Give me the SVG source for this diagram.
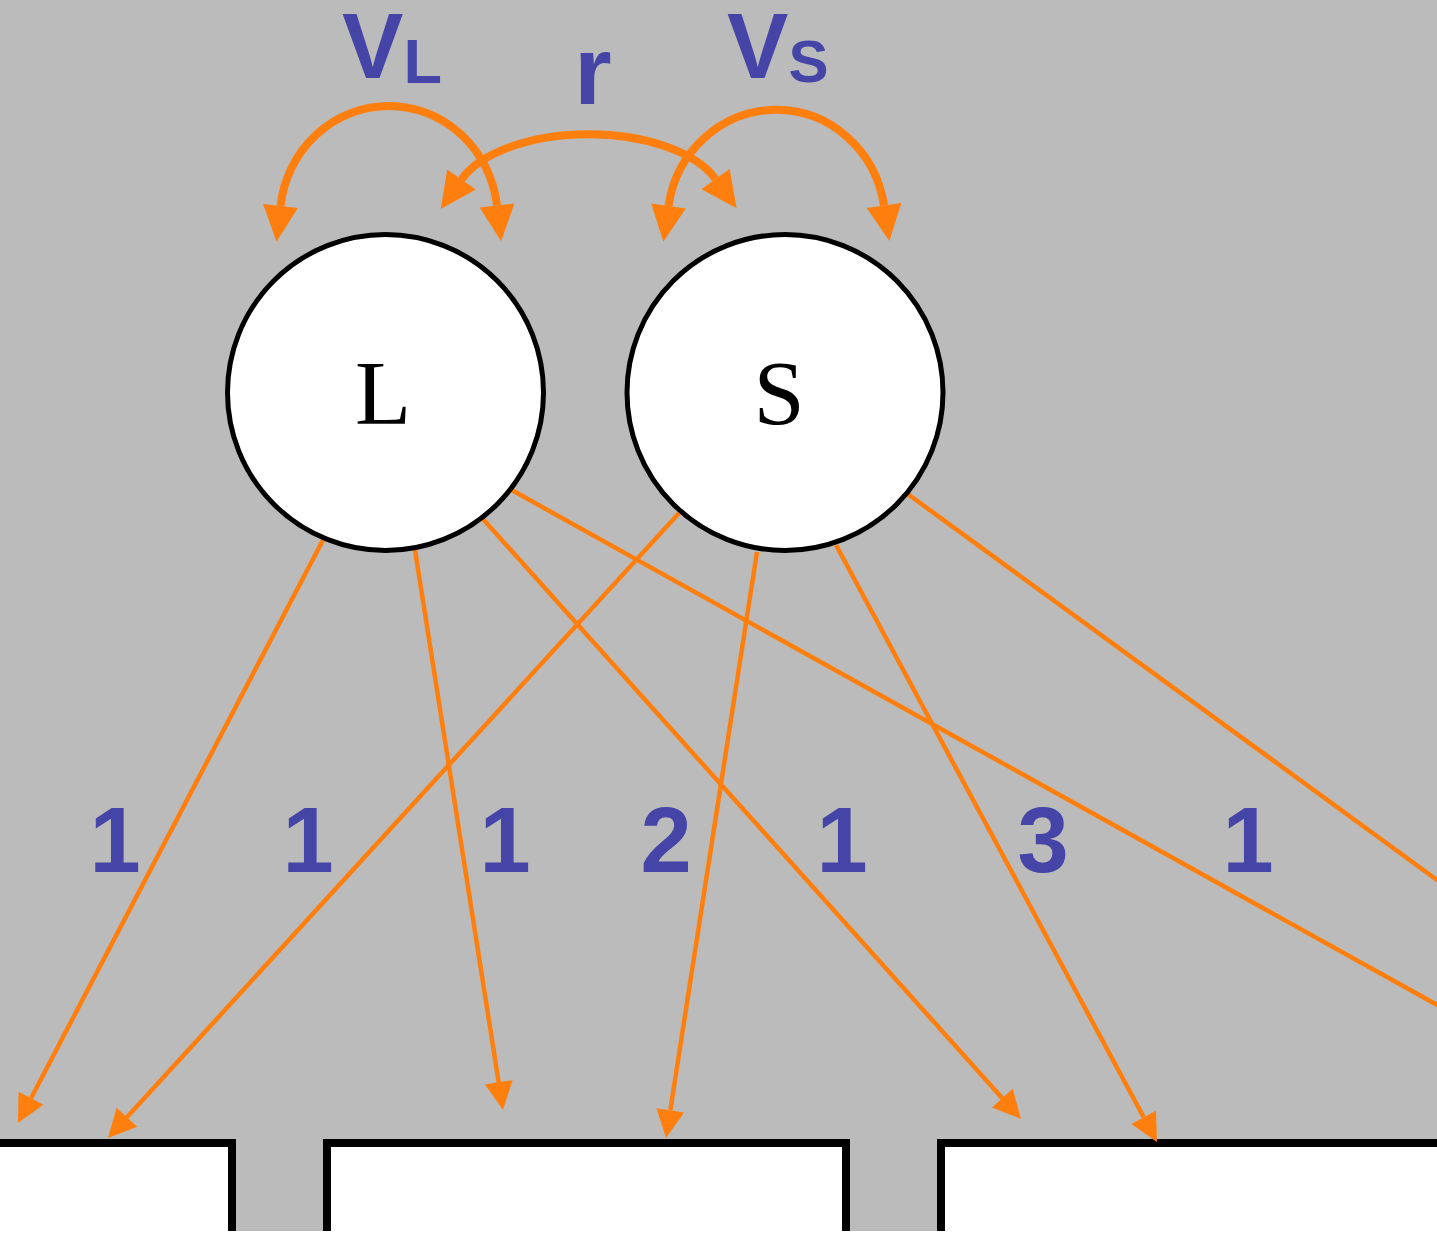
<svg xmlns="http://www.w3.org/2000/svg" width="1437" height="1241" viewBox="0 0 1437 1241">
  <style>
    .label { font-family: "Liberation Sans", Arial, sans-serif; font-weight: bold; fill: #4545A8; }
    .num { font-size: 92px; text-anchor: middle; }
    .node circle { fill: #FFFFFF; stroke: #000000; stroke-width: 5; }
    .node text { font-family: "Liberation Serif", "Times New Roman", serif; font-size: 92px; text-anchor: middle; fill: #000000; }
    .path { fill: none; stroke: #FF7F0E; stroke-width: 4.5; marker-end: url(#head); }
    .cov { fill: none; stroke: #FF7F0E; stroke-width: 8; marker-start: url(#bighead); marker-end: url(#bighead); }
    .box { fill: #FFFFFF; stroke: #000000; stroke-width: 8; }
  </style>
  <defs>
    <marker id="head" markerUnits="userSpaceOnUse" markerWidth="28" markerHeight="28" refX="0" refY="14" orient="auto" overflow="visible">
      <path d="M0,0 L28,14 L0,28 Z" fill="#FF7F0E"/>
    </marker>
    <marker id="bighead" markerUnits="userSpaceOnUse" markerWidth="36" markerHeight="35" refX="0" refY="17.5" orient="auto-start-reverse" overflow="visible">
      <path d="M0,0 L36,17.5 L0,35 Z" fill="#FF7F0E"/>
    </marker>
    <clipPath id="frame">
      <rect x="0" y="0" width="1437" height="1231"/>
    </clipPath>
  </defs>

  <rect x="0" y="0" width="1437" height="1241" fill="#FFFFFF"/>
  <rect x="0" y="0" width="1437" height="1231" fill="#BBBBBB"/>

  <!-- indicator boxes along the bottom -->
  <g id="indicators" clip-path="url(#frame)">
    <path id="box1" class="box" d="M-20,1260 V1143 H232 V1260"/>
    <path id="box2" class="box" d="M327,1260 V1143 H846 V1260"/>
    <path id="box3" class="box" d="M941,1260 V1143 H1460 V1260"/>
  </g>

  <!-- loadings, variances and covariance -->
  <g id="connectors">
    <line class="path" x1="323" y1="540" x2="31" y2="1098.2"/>
    <line class="path" x1="415" y1="550" x2="498.7" y2="1082.3"/>
    <line class="path" x1="482" y1="518" x2="1002.3" y2="1098.2"/>
    <line class="path" x1="508" y1="488" x2="1470" y2="1023.3" style="marker-end:none"/>
    <line class="path" x1="680" y1="512" x2="126.9" y2="1117.3"/>
    <line class="path" x1="757" y1="552" x2="670.3" y2="1110.3"/>
    <line class="path" x1="836" y1="545" x2="1143.7" y2="1117.3"/>
    <line class="path" x1="905" y1="492" x2="1470" y2="904" style="marker-end:none"/>

    <path class="cov" d="M280.5,206 A109,113 0 0 1 497,205.5"/>
    <path class="cov" d="M461.5,179.5 A135,68 0 0 1 715.5,179"/>
    <path class="cov" d="M668.5,206 A109,113 0 0 1 884,205.5"/>
  </g>

  <g id="node-L" class="node">
    <circle cx="385.5" cy="392.5" r="158"/>
    <text x="383" y="424">L</text>
  </g>
  <g id="node-S" class="node">
    <circle cx="785" cy="392.5" r="158"/>
    <text x="779" y="424">S</text>
  </g>

  <g id="labels">
    <text class="label" x="342" y="78" font-size="92">V<tspan font-size="63" dy="5">L</tspan></text>
    <text class="label" x="593" y="104" font-size="96" text-anchor="middle">r</text>
    <text class="label" x="727" y="78" font-size="92">V<tspan font-size="60" dy="4">S</tspan></text>

    <text class="label num" x="115" y="872">1</text>
    <text class="label num" x="308" y="872">1</text>
    <text class="label num" x="505" y="872">1</text>
    <text class="label num" x="666" y="872">2</text>
    <text class="label num" x="842" y="872">1</text>
    <text class="label num" x="1043" y="872">3</text>
    <text class="label num" x="1248" y="872">1</text>
  </g>
</svg>
